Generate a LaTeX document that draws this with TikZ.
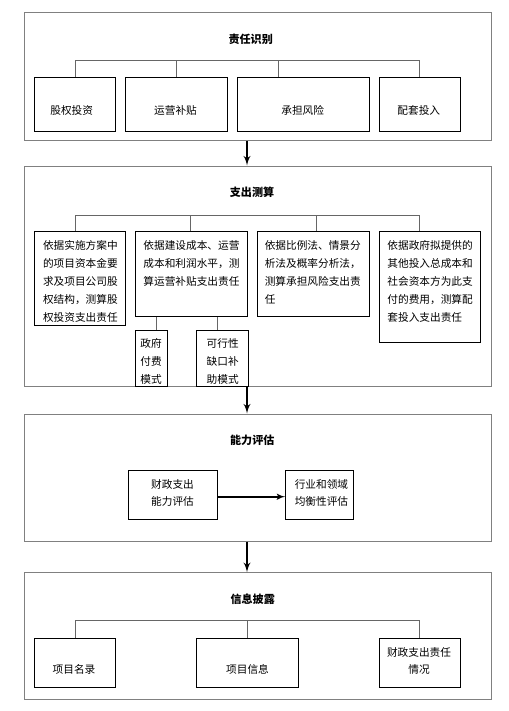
\documentclass[tikz,border=0pt]{standalone}
\usepackage{fontspec}
\setmainfont{Noto Sans CJK SC}
\usetikzlibrary{arrows,fit}

\begin{document}
\begin{tikzpicture}[x=0.75pt,y=-0.75pt]
\tikzset{stage/.style = {draw=black!50,line width=0.75pt,inner sep=0pt}}
\tikzset{box/.style = {draw,line width=0.75pt,inner sep=0pt}}
\tikzset{title/.style = {font=\fontsize{8.3}{10}\selectfont\bfseries,inner sep=0pt}}
\tikzset{body/.style = {font=\fontsize{8}{13.5}\selectfont,align=left,inner sep=0pt}}
\tikzset{link/.style = {draw=black!60,line width=0.75pt}}
\tikzset{flow/.style = {->,> = latex',line width=1.5pt}}

\useasboundingbox (0,0) rectangle (509,711);
\coordinate (spine) at (247,0);

% stage 1

\node[stage,fit={(24.3,12.3) (491.7,140.3)}] (shibie) {};
\node[title] (shibieT) at (250.7,39) {责任识别};
\coordinate (bus1) at (0,60.3);

\node[box,fit={(34.3,77.7) (115.7,131)}] (guquan) {};
\node[box,fit={(125.3,77.7) (227.7,131)}] (yunying) {};
\node[box,fit={(237.3,77.7) (369,131)}] (chengdan) {};
\node[box,fit={(379.3,77.7) (460.3,131)}] (peitao) {};
\node[body] (guquanT) at (71.7,110) {股权投资};
\node[body] (yunyingT) at (175.5,110) {运营补贴};
\node[body] (chengdanT) at (302.7,110) {承担风险};
\node[body] (peitaoT) at (418.8,110) {配套投入};

\draw[link] (guquan.north) -- (guquan.north |- bus1) -| (peitao.north);
\draw[link] (yunying.north) -- (yunying.north |- bus1);
\draw[link] ([xshift=-18.6pt]chengdan.north) -- ([xshift=-18.6pt]chengdan.north |- bus1);

% stage 2

\node[stage,fit={(24.3,166) (491.7,386.7)}] (cesuan) {};
\node[title] (cesuanT) at (252,192) {支出测算};
\coordinate (bus2) at (0,215.7);

\node[box,fit={(34.3,231.7) (125.3,325)}] (guquanC) {};
\node[box,fit={(135.7,231.7) (247,316)}] (yunyingC) {};
\node[box,fit={(257,231.7) (369,316)}] (chengdanC) {};
\node[box,fit={(379.3,231.7) (480.3,342.7)}] (peitaoC) {};
\node[body,anchor=north west] (guquanCT) at ([shift={(6.75pt,-6.75pt)}]guquanC.north west)
  {依据实施方案中\\的项目资本金要\\求及项目公司股\\权结构，测算股\\权投资支出责任};
\node[body,anchor=north west] (yunyingCT) at ([shift={(6pt,-6.75pt)}]yunyingC.north west)
  {依据建设成本、运营\\成本和利润水平，测\\算运营补贴支出责任};
\node[body,anchor=north west] (chengdanCT) at ([shift={(6pt,-6.75pt)}]chengdanC.north west)
  {依据比例法、情景分\\析法及概率分析法，\\测算承担风险支出责\\任};
\node[body,anchor=north west] (peitaoCT) at ([shift={(6.3pt,-6.75pt)}]peitaoC.north west)
  {依据政府拟提供的\\其他投入总成本和\\社会资本方为此支\\付的费用，测算配\\套投入支出责任};

\draw[link] ([xshift=-3.4pt]guquanC.north) -- ([xshift=-3.4pt]guquanC.north |- bus2) -| ([xshift=-7.9pt]peitaoC.north);
\draw[link] ([xshift=-1pt]yunyingC.north) -- ([xshift=-1pt]yunyingC.north |- bus2);
\draw[link] ([xshift=2.25pt]chengdanC.north) -- ([xshift=2.25pt]chengdanC.north |- bus2);

% payment modes

\node[box,fit={(135.7,330) (167.3,386.7)}] (zhengfu) {};
\node[box,fit={(196.7,330) (248.7,386.7)}] (kexing) {};
\node[body,align=center] (zhengfuT) at (151,361) {政府\\付费\\模式};
\node[body,align=center] (kexingT) at (222.7,361) {可行性\\缺口补\\助模式};

\draw[link] ([xshift=3.9pt]zhengfu.north) -- ([xshift=3.9pt]zhengfu.north |- yunyingC.south);
\draw[link] ([xshift=-4pt]kexing.north) -- ([xshift=-4pt]kexing.north |- yunyingC.south);

% stage 3

\node[stage,fit={(24.3,414) (491.7,541)}] (pinggu) {};
\node[title] (pingguT) at (252.3,440.7) {能力评估};

\node[box,fit={(128.3,470.7) (217,519.3)}] (caizheng) {};
\node[box,fit={(285.7,470.7) (353.3,519.3)}] (hangye) {};
\node[body,align=center,font=\fontsize{8}{12.75}\selectfont] (caizhengT) at (172.5,492.5) {财政支出\\能力评估};
\node[body,anchor=west,font=\fontsize{8}{12.75}\selectfont] (hangyeT) at (294.5,492.5) {行业和领域\\均衡性评估};

\draw[flow,line width=1.2pt] (caizheng.east |- 0,496.7) -- (hangye.west |- 0,496.7);

% stage 4

\node[stage,fit={(24.3,572.7) (491.7,699.3)}] (pilu) {};
\node[title] (piluT) at (252.7,599) {信息披露};
\coordinate (bus4) at (0,620.7);

\node[box,fit={(34.3,638.7) (115.7,687.3)}] (minglu) {};
\node[box,fit={(196.7,638.7) (298.3,687.3)}] (xinxi) {};
\node[box,fit={(379.3,638.7) (460.3,687.3)}] (zeren) {};
\node[body] (mingluT) at (74,669.3) {项目名录};
\node[body] (xinxiT) at (247.5,669.3) {项目信息};
\node[body,align=center,font=\fontsize{8}{13.3}\selectfont] (zerenT) at (419,661) {财政支出责任\\情况};

\draw[link] (minglu.north) -- (minglu.north |- bus4) -| (zeren.north);
\draw[link] (xinxi.north) -- (xinxi.north |- bus4);

% flow between stages

\draw[flow] (shibie.south -| spine) to (cesuan.north -| spine);
\draw[flow] (cesuan.south -| spine) to (pinggu.north -| spine);
\draw[flow] (pinggu.south -| spine) to (pilu.north -| spine);
\end{tikzpicture}
\end{document}
